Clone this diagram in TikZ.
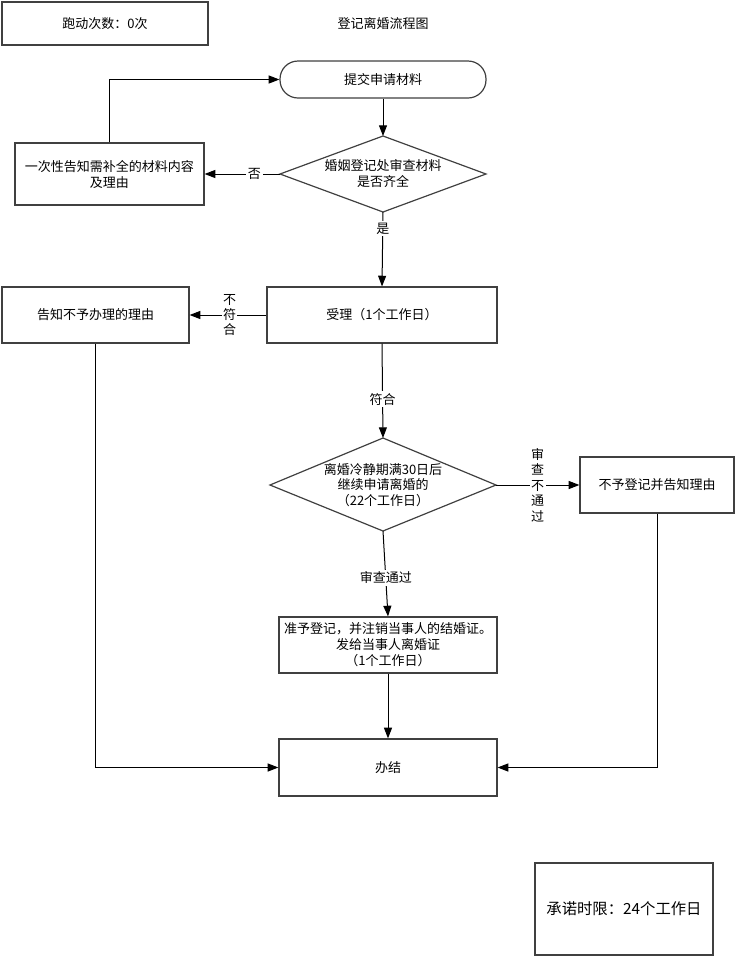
\documentclass[tikz,border=0pt]{standalone}
\usepackage{fontspec}
\setmainfont{Noto Sans CJK SC}
\usetikzlibrary{arrows.meta}
\begin{document}
\begin{tikzpicture}[x=0.75pt,y=-0.75pt,
  every node/.style={font=\fontsize{9.75pt}{12pt}\selectfont, inner sep=0pt},
  box/.style={draw=black!75, line width=0.9pt, fill=white, align=center},
  conn/.style={draw=black, line width=0.75pt},
  arr/.style={conn, -{Triangle[length=8pt,width=6pt]}},
  lab/.style={fill=white, inner sep=1.5pt, align=center},
  vlab/.style={fill=white, inner sep=1pt, align=center, font=\fontsize{9.75pt}{11.6pt}\selectfont}]
\useasboundingbox (0,0) rectangle (735,958);
% top
\node[box, minimum width=154.5pt, minimum height=32.25pt] (cnt) at (105,23.5) {跑动次数：0次};
\node (title) at (383,24) {登记离婚流程图};
% start
\node[box, rounded corners=13.5pt, minimum width=154.5pt, minimum height=27.75pt] (start) at (383,79.5) {提交申请材料};
% diamond 1
\node[align=center] (d1) at (383,174) {婚姻登记处审查材料\\是否齐全};
\coordinate (d1n) at (383,136);
\coordinate (d1s) at (383,212);
\coordinate (d1w) at (280,174);
\coordinate (d1e) at (486,174);
\draw[draw=black!75, line width=0.9pt] (d1n) -- (d1e) -- (d1s) -- (d1w) -- cycle;
% supplement box
\node[box, minimum width=141.75pt, minimum height=46.5pt] (sup) at (109.5,174) {一次性告知需补全的材料内容\\及理由};
% accept
\node[box, minimum width=172.5pt, minimum height=42pt] (acc) at (382,315) {受理（1个工作日）};
\node[box, minimum width=140.25pt, minimum height=42pt] (rej) at (95.5,315) {告知不予办理的理由};
% diamond 2
\node[align=center, font=\fontsize{9.75pt}{11.6pt}\selectfont] (d2) at (383,485) {离婚冷静期满30日后\\继续申请离婚的\\（22个工作日）};
\coordinate (d2n) at (383,438);
\coordinate (d2s) at (383,531);
\coordinate (d2w) at (270,485);
\coordinate (d2e) at (496,485);
\draw[draw=black!75, line width=0.9pt] (d2n) -- (d2e) -- (d2s) -- (d2w) -- cycle;
\node[box, minimum width=115.5pt, minimum height=42pt] (norg) at (657,485) {不予登记并告知理由};
\node[box, minimum width=163.5pt, minimum height=42pt] (grant) at (388,645) {准予登记，并注销当事人的结婚证。\\发给当事人离婚证\\（1个工作日）};
\node[box, minimum width=163.5pt, minimum height=42.75pt] (done) at (388,767.5) {办结};
\node[box, minimum width=133.5pt, minimum height=69pt, font=\fontsize{11.5pt}{13pt}\selectfont] (prom) at (624,909) {承诺时限：24个工作日};
% connectors
\draw[arr] (start.south) -- (d1n);
\draw[arr] (d1w) -- node[lab, pos=0.34] {否} (sup.east);
\draw[arr] (sup.north) |- (start.west);
\draw[arr] (d1s) -- node[lab, pos=0.22] {是} (acc.north);
\draw[arr] (acc.west) -- node[vlab, pos=0.48] {不\\符\\合} (rej.east);
\draw[arr] (acc.south) -- node[lab, pos=0.59] {符合} (d2n);
\draw[arr] (d2e) -- node[vlab, pos=0.5] {审\\查\\不\\通\\过} (norg.west);
\draw[arr] (d2s) -- node[lab, pos=0.55] {审查通过} (grant.north);
\draw[arr] (grant.south) -- (done.north);
\draw[arr] (rej.south) |- (done.west);
\draw[arr] (norg.south) |- (done.east);
\end{tikzpicture}
\end{document}
